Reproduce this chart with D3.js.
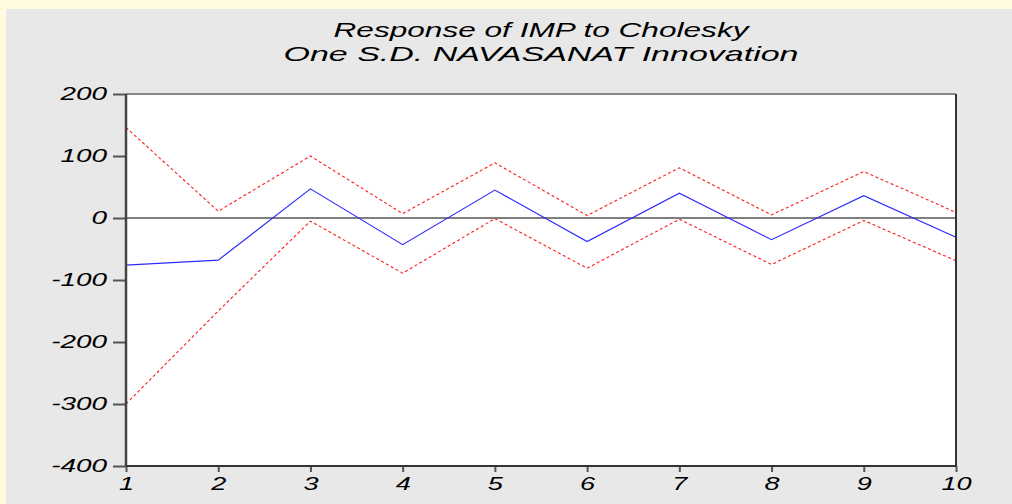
<!DOCTYPE html>
<html>
<head>
<meta charset="utf-8">
<script src="https://cdn.jsdelivr.net/npm/d3@7"></script>
<style>
  body { margin: 0; background: #fffbde; }
  text { font-family: "Liberation Sans", Arial, sans-serif; font-style: italic; fill: #000; }
</style>
</head>
<body>
<div id="chart"></div>
<script>
// periods and impulse response values
var periods = [1, 2, 3, 4, 5, 6, 7, 8, 9, 10];
var response = [-76, -68, 47, -43, 45, -38, 40, -35, 36, -31];
var upper = [146, 11, 100, 7, 89, 4, 81, 5, 75, 9];
var lower = [-300, -150, -5, -89, -1, -81, -2, -75, -4, -69];
var yTicks = [200, 100, 0, -100, -200, -300, -400];
var titleLines = ["Response of IMP to Cholesky", "One S.D. NAVASANAT Innovation"];

var W = 1012, H = 504;
var margin = {top: 94, right: 56, bottom: 38, left: 126},
    width = W - margin.left - margin.right,
    height = H - margin.top - margin.bottom;
var stretch = 1.55; // the original glyphs are drawn wide

var root = d3.select("#chart")
  .append("svg")
    .attr("width", W)
    .attr("height", H);

// grey panel inside yellow border
root.append("rect")
  .attr("x", 6).attr("y", 9)
  .attr("width", W - 6).attr("height", H - 9)
  .attr("fill", "#e8e8e8");

// title
var titleWidths = [415, 515];
root.selectAll(".title")
  .data(titleLines)
  .enter()
  .append("text")
    .attr("class", "title")
    .attr("x", margin.left + width / 2)
    .attr("y", (d, i) => 37 + i * 24)
    .attr("text-anchor", "middle")
    .attr("textLength", (d, i) => titleWidths[i])
    .attr("lengthAdjust", "spacingAndGlyphs")
    .style("font-size", "21px")
    .text(d => d);

var svg = root.append("g")
  .attr("transform", "translate(" + margin.left + "," + margin.top + ")");

var x = d3.scaleLinear().domain([1, 10]).range([0, width]);
var y = d3.scaleLinear().domain([-400, 200]).range([height, 0]);

svg.append("rect")
  .attr("width", width).attr("height", height)
  .attr("fill", "#fff");

// axes
var yAxis = svg.append("g")
  .call(d3.axisLeft(y).tickValues(yTicks).tickSize(13).tickPadding(6)
        .tickFormat(d => d < 0 ? "-" + Math.abs(d) : d));
var xAxis = svg.append("g")
  .attr("transform", "translate(0," + height + ")")
  .call(d3.axisBottom(x).tickValues(periods).tickSize(6).tickPadding(6).tickFormat(d3.format("d")));

[yAxis, xAxis].forEach(function(a) {
  a.select(".domain").remove();
  a.selectAll(".tick line").attr("stroke", "#555").attr("stroke-width", 2);
});
yAxis.selectAll("text")
  .style("font-size", "18px").attr("fill", "#000")
  .attr("x", 0)
  .attr("transform", "translate(-19,0) scale(" + stretch + ",1)");
xAxis.selectAll("text")
  .style("font-size", "17.5px").attr("fill", "#000")
  .attr("y", 0).attr("dy", "0.71em")
  .attr("transform", "translate(0,12) scale(" + stretch + ",1)");

// zero line
svg.append("line")
  .attr("x1", 0).attr("x2", width)
  .attr("y1", y(0)).attr("y2", y(0))
  .attr("stroke", "#000").attr("stroke-width", 1.2);

var line = d3.line()
  .x((d, i) => x(periods[i]))
  .y(d => y(d));

svg.selectAll(".band")
  .data([upper, lower])
  .enter()
  .append("path")
    .attr("class", "band")
    .attr("d", line)
    .attr("fill", "none")
    .attr("stroke", "#ff1a1a")
    .attr("stroke-width", 1.1)
    .attr("stroke-dasharray", "3,2.5");

svg.append("path")
  .datum(response)
  .attr("d", line)
  .attr("fill", "none")
  .attr("stroke", "#2a2aff")
  .attr("stroke-width", 1.2);

// frame
svg.append("line").attr("x1", 0).attr("x2", width).attr("y1", 0).attr("y2", 0)
  .attr("stroke", "#888").attr("stroke-width", 2);
svg.append("line").attr("x1", width).attr("x2", width).attr("y1", 0).attr("y2", height)
  .attr("stroke", "#333").attr("stroke-width", 2);
svg.append("line").attr("x1", 0).attr("x2", width).attr("y1", height).attr("y2", height)
  .attr("stroke", "#333").attr("stroke-width", 2);
svg.append("line").attr("x1", 0).attr("x2", 0).attr("y1", 0).attr("y2", height)
  .attr("stroke", "#444").attr("stroke-width", 2.5);
</script>
</body>
</html>
